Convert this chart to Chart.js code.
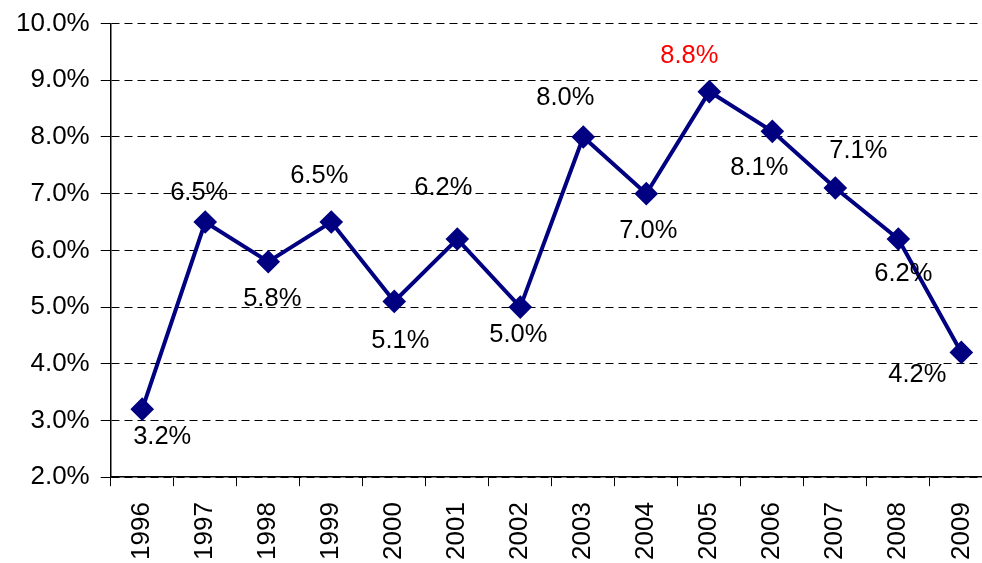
<!DOCTYPE html>
<html>
<head>
<meta charset="utf-8">
<script src="https://cdn.jsdelivr.net/npm/chart.js@4/dist/chart.umd.min.js"></script>
<style>
  html, body { margin: 0; padding: 0; background: #fff; overflow: hidden; }
  #rateChart { display: block; margin-top: -3px; }
</style>
</head>
<body>
<canvas id="rateChart" width="1009" height="583"></canvas>
<script>
// values
var years = ["1996", "1997", "1998", "1999", "2000", "2001", "2002",
  "2003", "2004", "2005", "2006", "2007", "2008", "2009"];
var rates = [3.2, 6.5, 5.8, 6.5, 5.1, 6.2, 5.0, 8.0, 7.0, 8.8, 8.1, 7.1, 6.2, 4.2];
var yTicks = [2, 3, 4, 5, 6, 7, 8, 9, 10];

// where each value label sits relative to its point (px)
var labelShift = [[20, 28], [-6, -29], [4, 37], [-12, -46], [6, 40], [-14, -51], [-2, 28],
  [-18, -39], [2, 37], [-20, -36], [-13, 37], [23, -37], [5, 35], [-44, 23]];
var redLabel = 9; // 2005

var FONT = "'Liberation Sans', Arial, sans-serif";

var valueLabels = {
  id: "valueLabels",
  afterDatasetsDraw: function (chart) {
    var c = chart.ctx;
    var pts = chart.getDatasetMeta(0).data;
    c.save();
    c.font = "25.5px " + FONT;
    c.textAlign = "center";
    c.textBaseline = "middle";
    pts.forEach(function (p, i) {
      c.fillStyle = i === redLabel ? "#ff0000" : "#000000";
      c.fillText(rates[i].toFixed(1) + "%", p.x + labelShift[i][0], p.y + labelShift[i][1]);
    });
    c.restore();
  }
};

var ctx = document.getElementById("rateChart");
var rateChart = new Chart(ctx, {
  type: "line",
  data: {
    labels: years,
    datasets: [{
      data: rates,
      borderColor: "#000080",
      backgroundColor: "#000080",
      borderWidth: 4,
      pointStyle: "rectRot",
      pointRadius: 9,
      pointHoverRadius: 9,
      fill: false,
      tension: 0
    }]
  },
  options: {
    responsive: false,
    animation: false,
    layout: { padding: { left: 5, top: 1, right: 8, bottom: 4 } },
    plugins: {
      legend: { display: false },
      tooltip: { enabled: false }
    },
    scales: {
      x: {
        offset: true,
        grid: {
          offset: true,
          drawOnChartArea: false,
          drawTicks: true,
          tickLength: 9,
          color: "#000"
        },
        border: { color: "#000", width: 1.5 },
        ticks: {
          color: "#000",
          font: { family: FONT, size: 26 },
          minRotation: 90,
          maxRotation: 90,
          padding: 16
        }
      },
      y: {
        min: 2,
        max: 10,
        afterBuildTicks: function (axis) {
          axis.ticks = yTicks.map(function (v) { return { value: v }; });
        },
        grid: {
          color: "#000",
          lineWidth: 1,
          tickLength: 10,
          tickBorderDash: []
        },
        border: { color: "#000", width: 1.5, dash: [8, 5] },
        ticks: {
          color: "#000",
          font: { family: FONT, size: 26 },
          padding: 11,
          callback: function (v) { return v.toFixed(1) + "%"; }
        }
      }
    }
  },
  plugins: [valueLabels]
});
</script>
</body>
</html>
